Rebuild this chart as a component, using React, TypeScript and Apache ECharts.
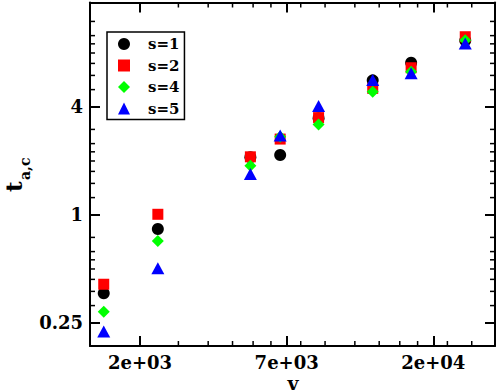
import React, { useEffect, useRef } from "react";
import * as echarts from "echarts";

const FONT = "DejaVu Serif";

const xValues = [1667, 2500, 5000, 6250, 8333, 12500, 16667, 25000];
const s1 = [0.366, 0.835, 2.1, 2.16, 3.46, 5.63, 7.06, 9.39];
const s2 = [0.411, 1.009, 2.11, 2.65, 3.49, 5.08, 6.62, 9.86];
const s4 = [0.289, 0.716, 1.88, 2.73, 3.2, 4.87, 6.29, 9.43];
const s5 = [0.224, 0.504, 1.69, 2.77, 4.05, 5.66, 6.16, 9.03];

const seriesNames = ["s=1", "s=2", "s=4", "s=5"];
const seriesColors = ["#000000", "#ff0000", "#00ff00", "#0000ff"];
const seriesSymbols = ["circle", "rect", "diamond", "triangle"];
const seriesSizes: any[] = [12, 11, 12, [13, 12]];

const xMin = 1504;
const xMax = 31240;
const yMin = 0.186;
const yMax = 15.3;

const xMinorTicks = [2916, 3645, 4374, 5103, 5832, 7290, 8748, 10935, 13122, 15309, 17496, 21870, 26244];
const yMinorTicks = [
  0.3125, 0.375, 0.4375, 0.5, 0.5625, 0.625, 0.75,
  1.25, 1.5, 1.75, 2, 2.25, 2.5, 3,
  5, 6, 7, 8, 9, 10, 12,
];

const fmtExp = (v: number) => {
  const s = v.toExponential(0);
  const [m, e] = s.split("e");
  const sign = e[0];
  const d = e.slice(1).padStart(2, "0");
  return `${m}e${sign}${d}`;
};
const fmtY = (v: number) => String(+v.toPrecision(3));

export default function App() {
  const ref = useRef<HTMLDivElement>(null);
  useEffect(() => {
    if (!ref.current) return;
    const chart = echarts.init(ref.current, undefined, { renderer: "svg" });
    const lineStyle = { color: "#000", width: 2 };
    const labelStyle = {
      fontFamily: FONT,
      fontWeight: "bold" as const,
      fontSize: 18,
      color: "#000",
    };
    const seriesData = [s1, s2, s4, s5];
    const option: any = {
      animation: false,
      backgroundColor: "#fff",
      grid: { left: 90, right: 3, top: 2.5, bottom: 46, containLabel: false },
      xAxis: [
        {
          type: "log",
          logBase: 3,
          min: xMin,
          max: xMax,
          position: "bottom",
          axisLine: { show: true, onZero: false, lineStyle },
          axisTick: { show: true, inside: true, length: 10, lineStyle },
          splitLine: { show: false },
          axisLabel: {
            ...labelStyle,
            margin: 7,
            showMinLabel: false,
            showMaxLabel: false,
            formatter: fmtExp,
          },
        },
        {
          type: "log",
          logBase: 3,
          min: xMin,
          max: xMax,
          position: "top",
          axisLine: { show: true, onZero: false, lineStyle },
          axisTick: { show: true, inside: true, length: 10, lineStyle },
          splitLine: { show: false },
          axisLabel: { show: false },
        },
      ],
      yAxis: [
        {
          type: "log",
          logBase: 4,
          min: yMin,
          max: yMax,
          position: "left",
          axisLine: { show: true, onZero: false, lineStyle },
          axisTick: { show: true, inside: true, length: 10, lineStyle },
          splitLine: { show: false },
          axisLabel: {
            ...labelStyle,
            margin: 7,
            showMinLabel: false,
            showMaxLabel: false,
            formatter: fmtY,
          },
        },
        {
          type: "log",
          logBase: 4,
          min: yMin,
          max: yMax,
          position: "right",
          axisLine: { show: true, onZero: false, lineStyle },
          axisTick: { show: true, inside: true, length: 10, lineStyle },
          splitLine: { show: false },
          axisLabel: { show: false },
        },
      ],
      legend: {
        orient: "vertical",
        left: 107,
        top: 32,
        padding: [2, 5, 1, 11],
        itemWidth: 12,
        itemHeight: 12,
        itemGap: 1.5,
        borderColor: "#000",
        borderWidth: 1.5,
        backgroundColor: "#fff",
        selectedMode: false,
        textStyle: {
          fontFamily: FONT,
          fontWeight: "bold",
          fontSize: 15,
          color: "#000",
          lineHeight: 20,
          padding: [0, 0, 0, 13],
        },
        data: seriesNames.map((n, i) => ({ name: n, icon: seriesSymbols[i] })),
      },
      series: [
        {
          type: "custom",
          silent: true,
          xAxisIndex: 0,
          yAxisIndex: 0,
          data: xMinorTicks.map((v) => [v, 1]),
          renderItem: (params: any, api: any) => {
            const cs = params.coordSys;
            const px = api.coord([api.value(0), 1])[0];
            const st = { stroke: "#000", lineWidth: 1.5 };
            return {
              type: "group",
              children: [
                { type: "line", shape: { x1: px, y1: cs.y + cs.height, x2: px, y2: cs.y + cs.height - 5 }, style: st },
                { type: "line", shape: { x1: px, y1: cs.y, x2: px, y2: cs.y + 5 }, style: st },
              ],
            };
          },
        },
        {
          type: "custom",
          silent: true,
          xAxisIndex: 0,
          yAxisIndex: 0,
          data: yMinorTicks.map((v) => [5000, v]),
          renderItem: (params: any, api: any) => {
            const cs = params.coordSys;
            const py = api.coord([5000, api.value(1)])[1];
            const st = { stroke: "#000", lineWidth: 1.5 };
            return {
              type: "group",
              children: [
                { type: "line", shape: { x1: cs.x, y1: py, x2: cs.x + 5, y2: py }, style: st },
                { type: "line", shape: { x1: cs.x + cs.width, y1: py, x2: cs.x + cs.width - 5, y2: py }, style: st },
              ],
            };
          },
        },
        ...seriesNames.map((name, i) => ({
          name,
          type: "scatter",
          xAxisIndex: 0,
          yAxisIndex: 0,
          symbol: seriesSymbols[i],
          symbolSize: seriesSizes[i],
          itemStyle: { color: seriesColors[i], opacity: 1 },
          data: xValues.map((x, j) => [x, seriesData[i][j]]),
        })),
      ],
      graphic: [
        {
          type: "text",
          x: 13.5,
          y: 192,
          rotation: Math.PI / 2,
          style: {
            text: "t",
            fontFamily: FONT,
            fontWeight: "bold",
            fontSize: 23,
            fill: "#000",
            align: "left",
            verticalAlign: "middle",
          },
        },
        {
          type: "text",
          x: 25,
          y: 180,
          rotation: Math.PI / 2,
          style: {
            text: "a,c",
            fontFamily: FONT,
            fontWeight: "bold",
            fontSize: 14,
            fill: "#000",
            align: "left",
            verticalAlign: "middle",
          },
        },
        {
          type: "text",
          x: 293,
          y: 382.5,
          style: {
            text: "v",
            fontFamily: FONT,
            fontWeight: "bold",
            fontSize: 19,
            fill: "#000",
            align: "center",
            verticalAlign: "middle",
          },
        },
      ],
    };
    chart.setOption(option);
    return () => chart.dispose();
  }, []);
  return (
    <div
      ref={ref}
      style={{ position: "fixed", left: 0, top: 0, width: 498, height: 392, background: "#fff" }}
    />
  );
}
